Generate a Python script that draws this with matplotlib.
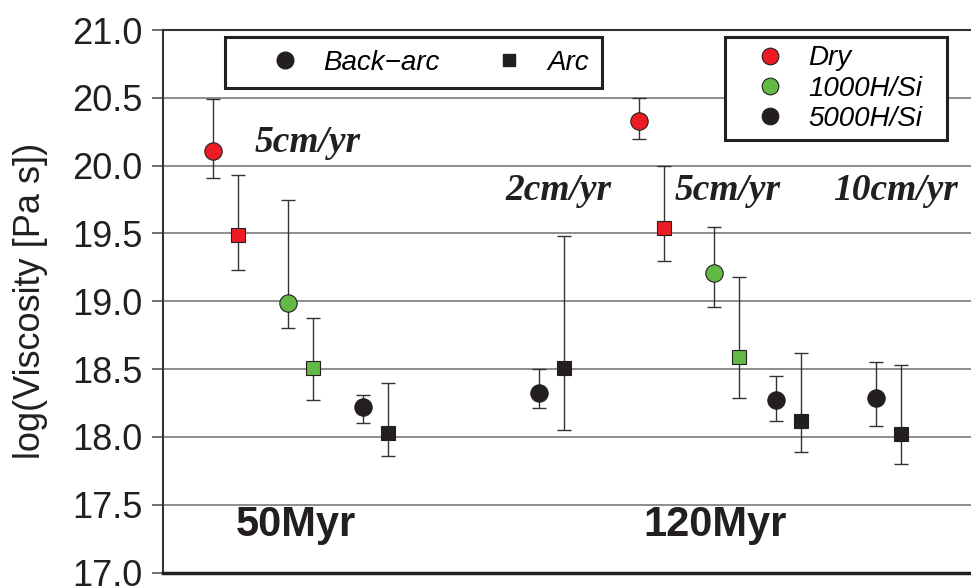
import matplotlib
matplotlib.use("Agg")
from matplotlib import pyplot as plt
from matplotlib.lines import Line2D

"""数据"""
x_pos = [1.0, 1.5, 2.5, 3.0, 4.0, 4.5, 7.52, 8.02, 9.52, 10.02, 11.02, 11.52, 12.26, 12.76, 14.26, 14.76]
visc = [20.11, 19.49, 18.99, 18.51, 18.22, 18.03, 18.32, 18.51, 20.33, 19.54, 19.21, 18.59, 18.27, 18.12, 18.29, 18.02]
visc_hi = [20.49, 19.93, 19.75, 18.88, 18.31, 18.40, 18.50, 19.48, 20.50, 20.00, 19.55, 19.18, 18.45, 18.62, 18.55, 18.53]
visc_lo = [19.91, 19.23, 18.80, 18.27, 18.10, 17.86, 18.21, 18.05, 20.20, 19.30, 18.96, 18.29, 18.12, 17.89, 18.08, 17.80]
water = ['Dry', 'Dry', '1000H/Si', '1000H/Si', '5000H/Si', '5000H/Si', '5000H/Si', '5000H/Si',
         'Dry', 'Dry', '1000H/Si', '1000H/Si', '5000H/Si', '5000H/Si', '5000H/Si', '5000H/Si']
kind = ['Back−arc', 'Arc'] * 8

rate_labels = ['5cm/yr', '2cm/yr', '5cm/yr', '10cm/yr']
rate_x = [1.84, 6.84, 10.24, 13.4]
rate_y = [20.17, 19.82, 19.82, 19.82]
age_labels = ['50Myr', '120Myr']
age_x = [1.46, 9.6]
age_y = [17.35, 17.35]

colors = {'Dry': '#ed1c24', '1000H/Si': '#62b946', '5000H/Si': '#231f20'}
markers = {'Back−arc': 'o', 'Arc': 's'}
msizes = {'Back−arc': 12.5, 'Arc': 9.5}

"""绘图"""
fig = plt.figure(figsize=(9.71, 5.86), dpi=100)
ax = fig.add_axes([0.1679, 0.023, 0.832, 0.9258])

for v in [17.5, 18.0, 18.5, 19.0, 19.5, 20.0, 20.5]:
	ax.axhline(v, color='#7a7a7a', linewidth=1.2, zorder=0)

err = [[v - lo for v, lo in zip(visc, visc_lo)], [hi - v for v, hi in zip(visc, visc_hi)]]
ax.errorbar(x_pos, visc, yerr=err, fmt='none', ecolor='#333333', elinewidth=1.0,
            capsize=5, capthick=1.0, zorder=2)

for i in range(len(x_pos)):
	ax.plot(x_pos[i], visc[i], marker=markers[kind[i]], color=colors[water[i]],
	        markersize=msizes[kind[i]], markeredgecolor='#231f20', markeredgewidth=0.8,
	        linestyle='none', zorder=3)

for t, xx, yy in zip(rate_labels, rate_x, rate_y):
	ax.text(xx, yy, t, fontsize=27, fontweight='bold', fontstyle='italic',
	        family='Liberation Serif', color='#231f20', va='center', ha='left')

for t, xx, yy in zip(age_labels, age_x, age_y):
	ax.text(xx, yy, t, fontsize=30, fontweight='bold', family='Liberation Sans',
	        color='#231f20', va='center', ha='left')

ax.set_xlim(0, 16.16)
ax.set_ylim(17.0, 21.0)
ax.set_xticks([])
ax.set_yticks([17.0, 17.5, 18.0, 18.5, 19.0, 19.5, 20.0, 20.5, 21.0])
ax.set_yticklabels(['%.1f' % v for v in ax.get_yticks()])
ax.tick_params(axis='y', direction='out', length=8, width=1.2, color='#555555',
               pad=7, labelsize=26, labelcolor='#231f20')
for lbl in ax.get_yticklabels():
	lbl.set_family('Liberation Sans')

ax.set_ylabel('log(Viscosity [Pa s])', fontsize=26, family='Liberation Sans', color='#231f20')
ax.yaxis.set_label_coords(-0.142, 0.5)

ax.spines['right'].set_visible(False)
ax.spines['top'].set_color('#333333')
ax.spines['top'].set_linewidth(1.5)
ax.spines['left'].set_color('#333333')
ax.spines['left'].set_linewidth(1.5)
ax.spines['bottom'].set_color('#231f20')
ax.spines['bottom'].set_linewidth(2.5)

"""图例"""
h1 = [Line2D([], [], marker='o', color='#231f20', linestyle='none', markersize=12),
      Line2D([], [], marker='s', color='#231f20', linestyle='none', markersize=9)]
leg1 = ax.legend(h1, ['Back−arc', 'Arc'], loc='upper left', ncol=2, mode='expand',
                 bbox_to_anchor=(0.0767, 0.1, 0.4666, 0.887), borderaxespad=0,
                 prop={'family': 'Liberation Sans', 'style': 'italic', 'size': 20},
                 fancybox=False, edgecolor='#231f20', framealpha=1,
                 handlelength=3.4, handletextpad=-0.3, borderpad=0.45)
leg1.get_frame().set_linewidth(2.2)
ax.add_artist(leg1)

h2 = [Line2D([], [], marker='o', color=colors[k], markeredgecolor='#231f20', markeredgewidth=0.8,
             linestyle='none', markersize=12) for k in ['Dry', '1000H/Si', '5000H/Si']]
leg2 = ax.legend(h2, ['Dry', '1000H/Si', '5000H/Si'], loc='upper left', mode='expand',
                 bbox_to_anchor=(0.6955, 0.1, 0.2748, 0.887), borderaxespad=0,
                 prop={'family': 'Liberation Sans', 'style': 'italic', 'size': 20},
                 fancybox=False, edgecolor='#231f20', framealpha=1,
                 handlelength=2.64, handletextpad=0.05, borderpad=0.3, labelspacing=0.15)
leg2.get_frame().set_linewidth(2.2)

fig.savefig('out.png', dpi=100)
